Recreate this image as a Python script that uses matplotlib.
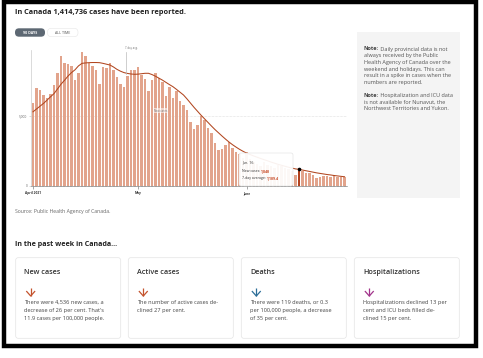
import numpy as np
import matplotlib.pyplot as plt
from matplotlib.patches import FancyBboxPatch, Rectangle

plt.rcParams['font.family'] = ['Open Sans', 'DejaVu Sans']

# daily new cases, Apr 1 - Jun 29 2021
new_cases = [5900, 7000, 6850, 6500, 6300, 6550, 7200, 8050, 9300, 8750,
             8700, 8600, 7550, 8100, 9550, 9250, 8800, 8600, 8250, 7300,
             8500, 8450, 8800, 8250, 7800, 7250, 7100, 7850, 8300, 8300,
             8500, 7950, 7650, 6750, 7550, 8050, 7700, 7450, 6400, 7050,
             6250, 6800, 6050, 5800, 5450, 4600, 4100, 4350, 5000, 4700,
             4150, 3750, 3100, 2550, 2650, 2950, 3150, 2700, 2450, 2300,
             2000, 2400, 1900, 1700, 1600, 1400, 1700, 1500, 1400, 1300,
             1500, 1400, 1300, 1200, 1100, 790, 1048, 1070, 950, 910,
             790, 560, 660, 710, 710, 660, 790, 620, 620, 660]

# 7-day average line
avg_7day = [5300, 5500, 5700, 5900, 6130, 6370, 6600, 6930, 7270, 7550,
            7850, 8100, 8300, 8580, 8760, 8790, 8810, 8820, 8820, 8810,
            8760, 8700, 8640, 8500, 8330, 8200, 8100, 8040, 8000, 7980,
            7990, 8020, 8050, 8050, 7960, 7840, 7700, 7560, 7400, 7240,
            7090, 6900, 6700, 6500, 6220, 5920, 5620, 5340, 5060, 4800,
            4540, 4280, 4030, 3800, 3570, 3350, 3140, 2950, 2780, 2620,
            2480, 2350, 2250, 2150, 2060, 1970, 1880, 1800, 1710, 1630,
            1550, 1480, 1410, 1340, 1280, 1220, 1189.4, 1140, 1090, 1040,
            990, 940, 900, 860, 820, 790, 750, 720, 690, 660]

month_ticks = [0, 30, 61]
month_labels = ['April 2021', 'May', 'June']
y_ticks = [0, 5000]
y_labels = ['0', '5,000']
highlight = 76

card_titles = ['New cases', 'Active cases', 'Deaths', 'Hospitalizations']
card_texts = [
    ["There were 4,536 new cases, a", "decrease of 26 per cent. That's",
     "11.9 cases per 100,000 people."],
    ["The number of active cases de-", "clined 27 per cent."],
    ["There were 119 deaths, or 0.3", "per 100,000 people, a decrease",
     "of 35 per cent."],
    ["Hospitalizations declined 13 per", "cent and ICU beds filled de-",
     "clined 15 per cent."],
]
arrow_colors = ['#c4532d', '#c4532d', '#2c6e98', '#a2348b']

note1 = [" Daily provincial data is not", "always received by the Public",
         "Health Agency of Canada over the", "weekend and holidays. This can",
         "result in a spike in cases when the", "numbers are reported."]
note2 = [" Hospitalization and ICU data", "is not available for Nunavut, the",
         "Northwest Territories and Yukon."]

bar_color = '#e2a48c'
dark_red = '#b1421e'
line_color = '#b1461f'

W, H = 483, 358
fig = plt.figure(figsize=(W / 100, H / 100), dpi=100)
bg = fig.add_axes([0, 0, 1, 1])
bg.set_xlim(0, W)
bg.set_ylim(H, 0)
bg.axis('off')

def rbox(axe, x0, y0, x1, y1, fc, ec='none', r=2.5, lw=0.5, z=1, alpha=1):
    p = FancyBboxPatch((x0, y0), x1 - x0, y1 - y0,
                       boxstyle='round,pad=0,rounding_size=%g' % r,
                       fc=fc, ec=ec, lw=lw, zorder=z, alpha=alpha)
    axe.add_patch(p)
    return p

# frame
bg.add_patch(Rectangle((3.5, 1.5), 472.5, 344.5, fill=False, ec='black', lw=3.2, zorder=10))

bg.text(15, 12, 'In Canada 1,414,736 cases have been reported.', fontsize=5.3,
        fontweight='bold', color='#222', va='center')

# buttons
rbox(bg, 15, 28.3, 45, 36.7, '#5d6873', r=4)
bg.text(30, 32.5, '90 DAYS', fontsize=2.6, fontweight='bold', color='white', ha='center', va='center')
rbox(bg, 47.5, 28.3, 78, 36.7, 'white', ec='#e6e6e6', r=4, lw=0.4)
bg.text(62.7, 32.5, 'ALL TIME', fontsize=2.6, color='#555', ha='center', va='center')

# note panel
bg.add_patch(Rectangle((357, 32), 103, 166, fc='#f4f4f4', ec='none', zorder=1))
for lines, y0 in [(note1, 49), (note2, 95.5)]:
    for k, s in enumerate(lines):
        y = y0 + k * 6.7
        if k == 0:
            t = bg.text(364, y, 'Note:', fontsize=4.0, fontweight='bold', color='#444', va='center', zorder=2)
            bg.annotate(s, xy=(1, 0.5), xycoords=t, va='center', fontsize=4.0, color='#555', zorder=2)
        else:
            bg.text(364, y, s, fontsize=4.0, color='#555', va='center', zorder=2)

bg.text(15, 211, 'Source: Public Health Agency of Canada.', fontsize=3.7, color='#666', va='center')

bg.text(15, 244, 'In the past week in Canada...', fontsize=5.1, fontweight='bold', color='#222', va='center')

lefts = [15.7, 128.3, 241.3, 354.3]
for left, title, lines, col in zip(lefts, card_titles, card_texts, arrow_colors):
    rbox(bg, left, 257.7, left + 105, 338.3, 'white', ec='#e4e4e4', r=2.5, lw=0.5)
    bg.text(left + 8.7, 272, title, fontsize=5.2, fontweight='semibold', color='#333', va='center')
    cx = left + 15
    bg.plot([cx, cx], [287.5, 296], color=col, lw=0.9, solid_capstyle='butt')
    bg.plot([cx - 4, cx, cx + 4], [291.5, 296, 291.5], color=col, lw=0.9)
    for k, s in enumerate(lines):
        bg.text(left + 8.7, 302.3 + k * 8.3, s, fontsize=4.1, color='#444', va='center')

# chart
ax = fig.add_axes([31 / W, 1 - 186 / H, 316 / W, 135.8 / H])
days = np.arange(len(new_cases))
colors = [bar_color] * len(new_cases)
colors[highlight] = dark_red
ax.bar(days, new_cases, width=0.74, color=colors, zorder=2)
ax.plot(days, avg_7day, color=line_color, lw=0.75, zorder=3)
ax.plot(days[highlight], avg_7day[highlight], 'o', color='black', ms=1.6, zorder=6)
ax.axhline(5000, color='#c8c8c8', lw=0.4, ls=(0, (1, 1.5)), zorder=1)
ax.set_xlim(-0.57, 89.71)
ax.set_ylim(0, 9700)
ax.set_xticks(month_ticks, month_labels, fontsize=2.3, fontweight='bold', color='#333')
ax.set_xticks(days, minor=True)
ax.set_yticks(y_ticks, y_labels, fontsize=2.3, color='#666')
ax.tick_params(axis='x', which='major', length=2, width=0.4, color='#666', pad=1.5)
ax.tick_params(axis='x', which='minor', length=1, width=0.3, color='#777')
ax.tick_params(axis='y', length=1.5, width=0.4, color='#bbb', pad=1)
for side in ['top', 'right']:
    ax.spines[side].set_visible(False)
ax.spines['left'].set_color('#cccccc')
ax.spines['left'].set_linewidth(0.5)
ax.spines['bottom'].set_color('#666666')
ax.spines['bottom'].set_linewidth(0.4)
ax.patch.set_alpha(0)

# overlay for annotations and tooltip
top = fig.add_axes([0, 0, 1, 1], zorder=5)
top.set_xlim(0, W)
top.set_ylim(H, 0)
top.axis('off')
top.text(131.5, 48.5, '7-day avg.', fontsize=2.0, color='#777', ha='center', va='center')
top.plot([126, 126], [52, 74], color='#bbbbbb', lw=0.5)
top.text(161, 110.5, 'New cases', fontsize=2.0, color='#777', ha='center', va='center',
         bbox=dict(boxstyle='square,pad=0.15', fc='white', ec='none', alpha=0.55))
rbox(top, 239, 153, 293, 186, 'white', ec='#dddddd', r=2, lw=0.4, alpha=0.93)
top.text(242, 162.5, 'Jun. 16', fontsize=2.6, color='#333', va='center')
t1 = top.text(242, 171, 'New cases: ', fontsize=2.5, color='#333', va='center')
top.annotate('1,048', xy=(1, 0.5), xycoords=t1, va='center', fontsize=2.5,
             fontweight='bold', color='#c4401a')
t2 = top.text(242, 177.7, '7-day average: ', fontsize=2.5, color='#333', va='center')
top.annotate('1,189.4', xy=(1, 0.5), xycoords=t2, va='center', fontsize=2.5,
             fontweight='bold', color='#c4401a')

fig.savefig('out.png', dpi=100)
